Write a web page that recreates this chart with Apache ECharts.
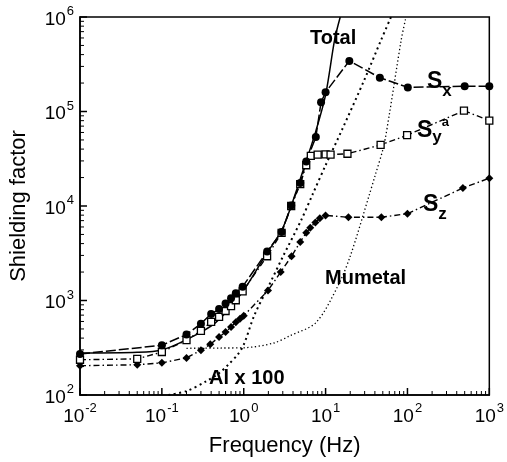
<!DOCTYPE html>
<html>
<head>
<meta charset="utf-8">
<script src="https://cdn.jsdelivr.net/npm/echarts@6/dist/echarts.min.js"></script>
<style>
  html, body { margin: 0; padding: 0; background: #fff; }
  #chart { width: 507px; height: 462px; }
</style>
</head>
<body>
<div id="chart"></div>
<script>
// tick values (decades)
const xTicks = [0.01, 0.1, 1, 10, 100, 1000]
const yTicks = [1e2, 1e3, 1e4, 1e5, 1e6]

// [frequency Hz, shielding factor]
const totalData = [[0.01, 278], [0.05, 283], [0.1, 300], [0.2, 385], [0.45, 580], [0.94, 1190],
  [1.93, 3200], [2.9, 5500], [3.8, 10000], [5.8, 30000], [7.6, 62000], [10, 150000], [12.9, 575000], [15.1, 1000000]]

const sxData = [[0.01, 272], [0.1, 336], [0.2, 437], [0.3, 569], [0.4, 721], [0.5, 812], [0.6, 930],
  [0.7, 1055], [0.8, 1190], [0.97, 1400], [1.93, 3300], [2.9, 5300], [3.8, 10100], [4.9, 17500],
  [5.8, 29500], [7.6, 53600], [8.8, 125000], [10, 160000], [19.5, 343000], [46, 228000],
  [101, 180000], [500, 185000], [1000, 185000]]

const syData = [[0.01, 236], [0.05, 241], [0.1, 285], [0.2, 380], [0.3, 478], [0.4, 595], [0.5, 671],
  [0.6, 774], [0.7, 871], [0.8, 1006], [0.97, 1250], [1.93, 2940], [2.9, 5200], [3.8, 10000],
  [4.9, 17000], [5.8, 27000], [6.6, 34000], [8, 35000], [10, 35200], [11.5, 35000], [18.5, 35700],
  [47, 44300], [99, 56100], [490, 102000], [1000, 80200]]

const szData = [[0.01, 204], [0.05, 209], [0.1, 219], [0.2, 247], [0.3, 298], [0.39, 344], [0.5, 410],
  [0.6, 465], [0.7, 525], [0.8, 590], [0.9, 640], [1.0, 690], [1.98, 1276], [2.83, 2000], [3.84, 2940],
  [4.9, 4170], [5.8, 5200], [6.5, 5900], [7.5, 6700], [8.5, 7400], [10, 7950], [19, 7600], [48, 7600],
  [100, 8300], [475, 15500], [1000, 19700]]

const mumetalData = [[0.2, 312], [0.5, 314], [1, 316], [2.33, 355], [3.7, 425], [7.6, 582], [14, 1400],
  [20, 2940], [34, 12900], [40, 20600], [51, 42200], [60, 92500], [84, 575000], [96, 1000000]]

const alData = [[0.12, 100], [0.2, 110], [0.35, 140], [0.5, 170], [0.65, 210], [0.85, 270], [1.0, 340],
  [1.35, 700], [2, 1400], [3, 2900], [5, 7000], [7, 13500], [10, 27000], [16, 65000], [30, 220000],
  [48, 580000], [63, 1000000]]

// minor ticks 2..9 per decade
function minors(lo, hi) {
  const out = []
  for (let d = lo; d < hi; d *= 10)
    for (let k = 2; k <= 9; k++) out.push(d * k)
  return out
}

const X_MIN = 0.01, X_MAX = 1000, Y_MIN = 100, Y_MAX = 1e6
const xMinor = minors(X_MIN, X_MAX)
const yMinor = minors(Y_MIN, Y_MAX)

const FONT = 'Liberation Sans, Arial, sans-serif'
const pow = v => Math.round(Math.log10(v))
const tickRich = {
  b: { fontSize: 19, fontFamily: FONT, color: '#000', lineHeight: 24, verticalAlign: 'bottom' },
  s: { fontSize: 13, fontFamily: FONT, color: '#000', lineHeight: 24, verticalAlign: 'top', padding: [0, 0, 0, 1] }
}

function mainAxis(lo, hi, ticks, extra) {
  return Object.assign({
    type: 'log',
    logBase: 10,
    min: lo,
    max: hi,
    splitLine: { show: false },
    axisLine: { show: true, lineStyle: { color: '#000', width: 1.5 } },
    axisTick: { show: false },
    nameTextStyle: { fontSize: 22, fontFamily: FONT, color: '#000' }
  }, extra)
}

// inside tick marks drawn through the axes' own scales
function xTickSeries(vals, len, w) {
  return {
    type: 'custom', silent: true, clip: false, z: 5,
    data: vals.map(v => [v, Y_MIN]),
    renderItem: (params, api) => {
      const p = api.coord([api.value(0), Y_MIN])
      return { type: 'line', shape: { x1: p[0], y1: p[1], x2: p[0], y2: p[1] - len }, style: { stroke: '#000', lineWidth: w } }
    }
  }
}
function yTickSeries(vals, len, w) {
  return {
    type: 'custom', silent: true, clip: false, z: 5,
    data: vals.map(v => [X_MIN, v]),
    renderItem: (params, api) => {
      const p = api.coord([X_MIN, api.value(1)])
      return { type: 'line', shape: { x1: p[0], y1: p[1], x2: p[0] + len, y2: p[1] }, style: { stroke: '#000', lineWidth: w } }
    }
  }
}

const chart = echarts.init(document.getElementById('chart'))

chart.setOption({
  animation: false,
  backgroundColor: '#fff',
  grid: { left: 72, right: 17, top: 17, bottom: 58, show: true, borderColor: '#000', borderWidth: 1.5 },
  xAxis: mainAxis(X_MIN, X_MAX, xTicks, {
    name: 'Frequency (Hz)', nameLocation: 'middle', nameGap: 40,
    axisLabel: {
      customValues: xTicks, margin: 7,
      formatter: v => '{b|10}{s|' + pow(v) + '}', rich: tickRich
    }
  }),
  yAxis: mainAxis(Y_MIN, Y_MAX, yTicks, {
    name: 'Shielding factor', nameLocation: 'middle', nameGap: 50,
    axisLabel: {
      customValues: yTicks, margin: 6,
      formatter: v => '{b|10}{s|' + pow(v) + '}', rich: tickRich
    }
  }),
  series: [
    xTickSeries(xTicks, 7, 1.5),
    xTickSeries(xMinor, 4, 1),
    yTickSeries(yTicks, 7, 1.5),
    yTickSeries(yMinor, 4, 1),
    {
      name: 'Al x 100', type: 'line', data: alData, smooth: 0.3, symbol: 'none',
      lineStyle: { color: '#000', width: 2, type: [2, 3.5] }
    },
    {
      name: 'Mumetal', type: 'line', data: mumetalData, smooth: 0.3, symbol: 'none',
      lineStyle: { color: '#000', width: 1.3, type: [1.3, 2.5] }
    },
    {
      name: 'Total', type: 'line', data: totalData, smooth: 0.3, symbol: 'none',
      lineStyle: { color: '#000', width: 1.5 }
    },
    {
      name: 'Sz', type: 'line', data: szData, symbol: 'diamond', symbolSize: [8, 8],
      itemStyle: { color: '#000' },
      lineStyle: { color: '#000', width: 1.4, type: [6, 3, 1.5, 3] }
    },
    {
      name: 'Sy', type: 'line', data: syData, symbol: 'rect', symbolSize: 7,
      itemStyle: { color: '#fff', borderColor: '#000', borderWidth: 1.3 },
      lineStyle: { color: '#000', width: 1.4, type: [6, 3, 1.5, 3] }
    },
    {
      name: 'Sx', type: 'line', data: sxData, symbol: 'circle', symbolSize: 8,
      itemStyle: { color: '#000' },
      lineStyle: { color: '#000', width: 1.5, type: [10, 3] }
    }
  ],
  graphic: [
    { type: 'text', left: 310, top: 28, style: { text: 'Total', font: 'bold 20px ' + FONT, fill: '#000' } },
    { type: 'text', left: 325, top: 268, style: { text: 'Mumetal', font: 'bold 20px ' + FONT, fill: '#000' } },
    { type: 'text', left: 209, top: 368, style: { text: 'Al x 100', font: 'bold 20px ' + FONT, fill: '#000' } },
    {
      type: 'text', left: 427, top: 70,
      style: {
        text: '{m|S}{d|x}',
        rich: {
          m: { fontSize: 23, fontWeight: 'bold', fontFamily: FONT, fill: '#000', lineHeight: 30, verticalAlign: 'top' },
          d: { fontSize: 17, fontWeight: 'bold', fontFamily: FONT, fill: '#000', lineHeight: 30, verticalAlign: 'bottom' }
        }
      }
    },
    {
      type: 'text', left: 417, top: 116,
      style: {
        text: '{m|S}{d|y}{u|a}',
        rich: {
          m: { fontSize: 23, fontWeight: 'bold', fontFamily: FONT, fill: '#000', lineHeight: 30, verticalAlign: 'middle' },
          d: { fontSize: 17, fontWeight: 'bold', fontFamily: FONT, fill: '#000', lineHeight: 30, verticalAlign: 'bottom' },
          u: { fontSize: 13, fontWeight: 'bold', fontFamily: FONT, fill: '#000', lineHeight: 30, verticalAlign: 'top' }
        }
      }
    },
    {
      type: 'text', left: 423, top: 193,
      style: {
        text: '{m|S}{d|z}',
        rich: {
          m: { fontSize: 23, fontWeight: 'bold', fontFamily: FONT, fill: '#000', lineHeight: 30, verticalAlign: 'top' },
          d: { fontSize: 17, fontWeight: 'bold', fontFamily: FONT, fill: '#000', lineHeight: 30, verticalAlign: 'bottom' }
        }
      }
    }
  ]
})
</script>
</body>
</html>
